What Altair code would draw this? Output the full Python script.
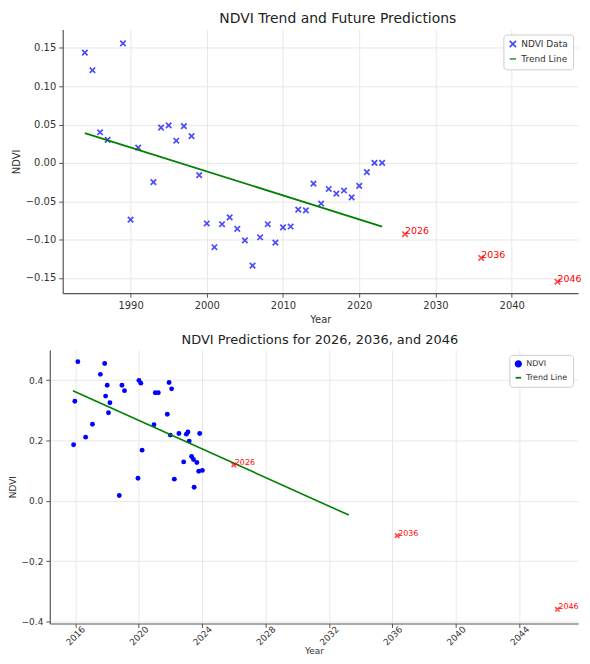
import altair as alt
import pandas as pd

# ---------------- data: top chart ----------------
years_top = [1984, 1985, 1986, 1987, 1989, 1990, 1991, 1993, 1994, 1995, 1996, 1997, 1998, 1999,
             2000, 2001, 2002, 2003, 2004, 2005, 2006, 2007, 2008, 2009, 2010, 2011, 2012, 2013,
             2014, 2015, 2016, 2017, 2018, 2019, 2020, 2021, 2022, 2023]
ndvi_top = [0.144, 0.121, 0.040, 0.030, 0.156, -0.074, 0.020, -0.025, 0.046, 0.049, 0.029, 0.048,
            0.035, -0.016, -0.079, -0.110, -0.080, -0.071, -0.086, -0.101, -0.134, -0.097, -0.080,
            -0.104, -0.084, -0.083, -0.061, -0.062, -0.027, -0.053, -0.034, -0.040, -0.036, -0.045,
            -0.030, -0.012, 0.000, 0.000]
trend_top_years = [1984, 2023]
trend_top_vals = [0.039, -0.083]
pred_years_top = [2026, 2036, 2046]
pred_vals_top = [-0.093, -0.124, -0.155]
pred_labels = ["2026", "2036", "2046"]

# ---------------- data: bottom chart ----------------
years_bot = [2016.17, 2017.86, 2017.59, 2018.02, 2018.95, 2019.11, 2020.02, 2020.14, 2021.92, 2022.08,
             2021.05, 2021.24, 2015.98, 2017.92, 2018.19, 2018.10, 2021.81, 2017.09, 2020.97, 2016.66,
             2015.90, 2022.00, 2022.54, 2023.01, 2023.11, 2023.85, 2023.19, 2020.22, 2023.34, 2023.46,
             2023.67, 2022.84, 2023.79, 2024.02, 2019.96, 2022.25, 2023.50, 2018.78]
ndvi_bot = [0.461, 0.455, 0.419, 0.383, 0.383, 0.365, 0.399, 0.390, 0.392, 0.371,
            0.358, 0.358, 0.330, 0.347, 0.325, 0.292, 0.287, 0.254, 0.252, 0.211,
            0.186, 0.218, 0.223, 0.221, 0.228, 0.223, 0.198, 0.168, 0.147, 0.137,
            0.127, 0.129, 0.098, 0.101, 0.075, 0.072, 0.045, 0.018]
trend_bot_years = [2015.86, 2033.25]
trend_bot_vals = [0.365, -0.047]
pred_years_bot = [2026.0, 2036.3, 2046.4]
pred_vals_bot = [0.119, -0.115, -0.359]

XPATH = "M-1,-1L1,1M-1,1L1,-1"
FONT = "DejaVu Sans"

df_top = pd.DataFrame({"year": years_top, "ndvi": ndvi_top, "series": "NDVI Data"})
df_trend_top = pd.DataFrame({"year": trend_top_years, "ndvi": trend_top_vals, "series": "Trend Line"})
df_pred_top = pd.DataFrame({"year": pred_years_top, "ndvi": pred_vals_top, "label": pred_labels})

df_bot = pd.DataFrame({"year": years_bot, "ndvi": ndvi_bot, "series": "NDVI"})
df_trend_bot = pd.DataFrame({"year": trend_bot_years, "ndvi": trend_bot_vals, "series": "Trend Line"})
df_pred_bot = pd.DataFrame({"year": pred_years_bot, "ndvi": pred_vals_bot, "label": pred_labels})


def make_legend(fs, size):
    return alt.Legend(title=None, orient="top-right", offset=5, strokeColor="#cccccc",
                      fillColor="white", padding=5, cornerRadius=3, labelFontSize=fs,
                      labelFont=FONT, labelColor="#333333", symbolSize=size,
                      symbolStrokeWidth=1.8, rowPadding=3, labelLimit=200)


# ---------------- top chart ----------------
SHIFT = 13
TOP_W = 531
xt = alt.X("year:Q", scale=alt.Scale(domain=[1981.1, 2048.7], nice=False, zero=False,
                                     range=[SHIFT, TOP_W]),
           axis=alt.Axis(values=[1990, 2000, 2010, 2020, 2030, 2040], format="d", title="Year"))
yt = alt.Y("ndvi:Q", scale=alt.Scale(domain=[-0.170, 0.174], nice=False, zero=False),
           axis=alt.Axis(values=[-0.15, -0.10, -0.05, 0.0, 0.05, 0.10, 0.15], format=".2f",
                         title="NDVI", offset=-SHIFT))
leg_t = make_legend(9, 40)
col_t = alt.Scale(domain=["NDVI Data", "Trend Line"], range=["#0000ff", "#008000"])
shp_t = alt.Scale(domain=["NDVI Data", "Trend Line"], range=[XPATH, "stroke"])

pts_t = alt.Chart(df_top).mark_point(filled=False, size=30, strokeWidth=1.7).encode(
    x=xt, y=yt,
    color=alt.Color("series:N", scale=col_t, legend=leg_t),
    shape=alt.Shape("series:N", scale=shp_t, legend=leg_t))
line_t = alt.Chart(df_trend_top).mark_line(strokeWidth=1.8).encode(
    x=xt, y=yt, color=alt.Color("series:N", scale=col_t, legend=leg_t))
pred_t = alt.Chart(df_pred_top).mark_point(shape=XPATH, filled=False, size=30, strokeWidth=1.7,
                                           color="#ff0000").encode(x=xt, y=yt)
lab_t = alt.Chart(df_pred_top).mark_text(align="left", baseline="alphabetic", dx=0, dy=0,
                                         color="#ff0000", fontSize=9.5, font=FONT).encode(
    x=xt, y=yt, text="label:N")

top = alt.layer(pts_t, line_t, pred_t, lab_t).properties(
    width=TOP_W, height=265,
    title=alt.TitleParams("NDVI Trend and Future Predictions", fontSize=14, font=FONT,
                          fontWeight="normal", color="#222222", offset=4, dx=24))

# ---------------- bottom chart ----------------
xb = alt.X("year:Q", scale=alt.Scale(domain=[2014.4, 2047.7], nice=False, zero=False),
           axis=alt.Axis(values=[2016, 2020, 2024, 2028, 2032, 2036, 2040, 2044], format="d",
                         title="Year", labelAngle=-45, labelAlign="center",
                         labelBaseline="middle", labelPadding=8, labelFontSize=9,
                         titleFontSize=9, titlePadding=0))
yb = alt.Y("ndvi:Q", scale=alt.Scale(domain=[-0.406, 0.5], nice=False, zero=False),
           axis=alt.Axis(values=[-0.4, -0.2, 0.0, 0.2, 0.4], format=".1f", title="NDVI",
                         labelFontSize=9, titleFontSize=9))
leg_b = make_legend(8, 30)
col_b = alt.Scale(domain=["NDVI", "Trend Line"], range=["#0000ff", "#008000"])
shp_b = alt.Scale(domain=["NDVI", "Trend Line"], range=["circle", "stroke"])

pts_b = alt.Chart(df_bot).mark_point(filled=True, size=24, opacity=1).encode(
    x=xb, y=yb,
    color=alt.Color("series:N", scale=col_b, legend=leg_b),
    shape=alt.Shape("series:N", scale=shp_b, legend=leg_b))
line_b = alt.Chart(df_trend_bot).mark_line(strokeWidth=1.6).encode(
    x=xb, y=yb, color=alt.Color("series:N", scale=col_b, legend=leg_b))
pred_b = alt.Chart(df_pred_bot).mark_point(shape=XPATH, filled=False, size=20, strokeWidth=1.6,
                                           color="#ff0000").encode(x=xb, y=yb)
lab_b = alt.Chart(df_pred_bot).mark_text(align="left", baseline="alphabetic", dx=1, dy=0,
                                         color="#ff0000", fontSize=8, font=FONT).encode(
    x=xb, y=yb, text="label:N")

bottom = alt.layer(pts_b, line_b, pred_b, lab_b).properties(
    width=531, height=275,
    title=alt.TitleParams("NDVI Predictions for 2026, 2036, and 2046", fontSize=13, font=FONT,
                          fontWeight="normal", color="#222222", offset=3, dx=6))

chart = alt.concat(top, bottom, columns=1, spacing=10, align="none", bounds="full").properties(
    padding={"left": 0, "top": 2, "right": 0, "bottom": 0}
).resolve_scale(color="independent", shape="independent", x="independent", y="independent"
).configure(font=FONT).configure_view(stroke=None).configure_axis(
    gridColor="#e8e8e8", domainColor="#555555", tickColor="#555555", labelColor="#333333",
    titleColor="#333333", labelFont=FONT, titleFont=FONT, labelFontSize=10, titleFontSize=10,
    titleFontWeight="normal", tickSize=4, domainWidth=1.2, labelPadding=3, titlePadding=4
)

chart.save("out.html", embed_options={"renderer": "svg", "actions": False})
